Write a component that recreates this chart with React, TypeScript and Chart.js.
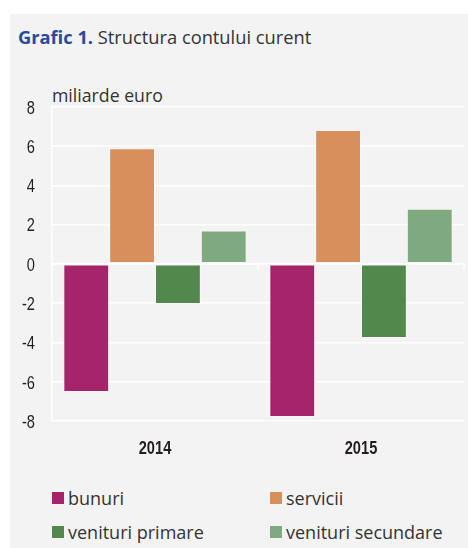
import React, { useEffect, useRef } from "react";
import { Chart, registerables } from "chart.js";

Chart.register(...registerables);

const categories = ["2014", "2015"];
const bunuri = [-6.53, -7.8];
const servicii = [5.88, 6.82];
const venituriPrimare = [-2.04, -3.77];
const venituriSecundare = [1.7, 2.8];
const seriesNames = ["bunuri", "servicii", "venituri primare", "venituri secundare"];
const seriesColors = ["#a6246a", "#d98f5b", "#52884b", "#7fa97f"];
const yMin = -8;
const yMax = 8;
const yStep = 2;

const BG = "#f2f3f2";
const LABEL_FONT = "'Liberation Sans', Arial, sans-serif";
const SANS = "'Open Sans', 'Noto Sans', sans-serif";
const SQUEEZE = 0.77;

const boundaryTicks = {
  id: "boundaryTicks",
  afterDatasetsDraw(chart: any) {
    const x = chart.scales.x;
    const y = chart.scales.y;
    const y0 = y.getPixelForValue(0);
    const ctx = chart.ctx;
    const n = chart.data.labels.length;
    const half = (x.getPixelForValue(1) - x.getPixelForValue(0)) / 2;
    ctx.save();
    ctx.strokeStyle = "#ffffff";
    ctx.lineWidth = 1.5;
    ctx.beginPath();
    ctx.moveTo(chart.chartArea.left, y0);
    ctx.lineTo(chart.chartArea.right, y0);
    for (let i = 0; i < n; i++) {
      const bx = x.getPixelForValue(i) + half;
      ctx.moveTo(bx, y0);
      ctx.lineTo(bx, y0 + 6);
    }
    ctx.stroke();
    ctx.restore();
  },
};

// Draws the tick labels in a horizontally condensed style (like the original's condensed face)
const condensedLabels = {
  id: "condensedLabels",
  afterDraw(chart: any) {
    const ctx = chart.ctx;
    const x = chart.scales.x;
    const y = chart.scales.y;
    const area = chart.chartArea;
    ctx.save();
    ctx.fillStyle = "#231f20";
    ctx.textBaseline = "alphabetic";
    ctx.textAlign = "right";
    ctx.font = `19px ${LABEL_FONT}`;
    y.ticks.forEach((t: any, i: number) => {
      const py = y.getPixelForTick(i);
      ctx.save();
      ctx.translate(area.left - 17, py + 6.8);
      ctx.scale(SQUEEZE, 1);
      ctx.fillText(String(t.value), 0, 0);
      ctx.restore();
    });
    ctx.textAlign = "center";
    ctx.font = `bold 19px ${LABEL_FONT}`;
    x.ticks.forEach((t: any, i: number) => {
      const px = x.getPixelForTick(i);
      ctx.save();
      ctx.translate(px, area.bottom + 33.3);
      ctx.scale(SQUEEZE, 1);
      ctx.fillText(String(chart.data.labels[i]), 0, 0);
      ctx.restore();
    });
    ctx.restore();
  },
};

export default function App() {
  const ref = useRef<HTMLCanvasElement>(null);
  useEffect(() => {
    document.body.style.overflow = "hidden";
    const data = [bunuri, servicii, venituriPrimare, venituriSecundare];
    const chart = new Chart(ref.current!, {
      type: "bar",
      data: {
        labels: categories,
        datasets: data.map((d, i) => ({
          label: seriesNames[i],
          data: d,
          backgroundColor: seriesColors[i],
          borderColor: "rgba(255,255,255,0.35)",
          borderWidth: 1,
          borderSkipped: false,
        })),
      },
      plugins: [boundaryTicks, condensedLabels],
      options: {
        animation: false,
        responsive: false,
        maintainAspectRatio: false,
        layout: { padding: { top: 16.7, right: 4, left: 0, bottom: 0 } },
        datasets: { bar: { barPercentage: 1, categoryPercentage: 0.89 } },
        plugins: { legend: { display: false }, tooltip: { enabled: false }, title: { display: false } },
        scales: {
          x: {
            grid: { display: false },
            border: { display: false },
            ticks: {
              padding: 0,
              color: "rgba(0,0,0,0)",
              font: { family: LABEL_FONT, size: 1 },
            },
            afterFit(s: any) {
              s.height = 49;
            },
          },
          y: {
            min: yMin,
            max: yMax,
            grid: { color: "#ffffff", lineWidth: 1.5, drawTicks: false },
            border: { display: true, color: "#ffffff", width: 1.5 },
            ticks: {
              stepSize: yStep,
              padding: 0,
              color: "rgba(0,0,0,0)",
              font: { family: LABEL_FONT, size: 1 },
            },
            afterFit(s: any) {
              s.width = 42;
            },
          },
        },
      },
    });
    return () => chart.destroy();
  }, []);

  const legendItem = (i: number, left: number, top: number) => (
    <div
      key={i}
      style={{
        position: "absolute",
        left,
        top,
        height: 20,
        display: "flex",
        alignItems: "center",
        fontFamily: SANS,
        fontSize: 18,
        lineHeight: "20px",
        color: "#333",
        whiteSpace: "nowrap",
      }}
    >
      <span style={{ display: "inline-block", width: 12, height: 12, background: seriesColors[i], marginRight: 4 }} />
      <span>{seriesNames[i]}</span>
    </div>
  );

  return (
    <div
      style={{
        position: "absolute",
        left: 10,
        top: 14,
        width: 458,
        height: 534,
        background: BG,
        overflow: "hidden",
      }}
    >
      <div
        style={{
          position: "absolute",
          left: 8,
          top: 10.9,
          fontFamily: SANS,
          fontSize: 18.3,
          lineHeight: "24px",
          color: "#333",
          whiteSpace: "nowrap",
        }}
      >
        <span style={{ color: "#2a4a9c", fontWeight: "bold" }}>Grafic 1.</span> Structura contului curent
      </div>
      <div
        style={{
          position: "absolute",
          left: 42,
          top: 69.8,
          fontFamily: SANS,
          fontSize: 17.7,
          lineHeight: "22px",
          color: "#333",
          whiteSpace: "nowrap",
        }}
      >
        miliarde euro
      </div>
      <canvas
        ref={ref}
        width={458}
        height={380}
        style={{ position: "absolute", left: 0, top: 76, width: 458, height: 380 }}
      />
      {legendItem(0, 42, 474)}
      {legendItem(1, 260, 474)}
      {legendItem(2, 42, 507.5)}
      {legendItem(3, 260, 507.5)}
    </div>
  );
}
